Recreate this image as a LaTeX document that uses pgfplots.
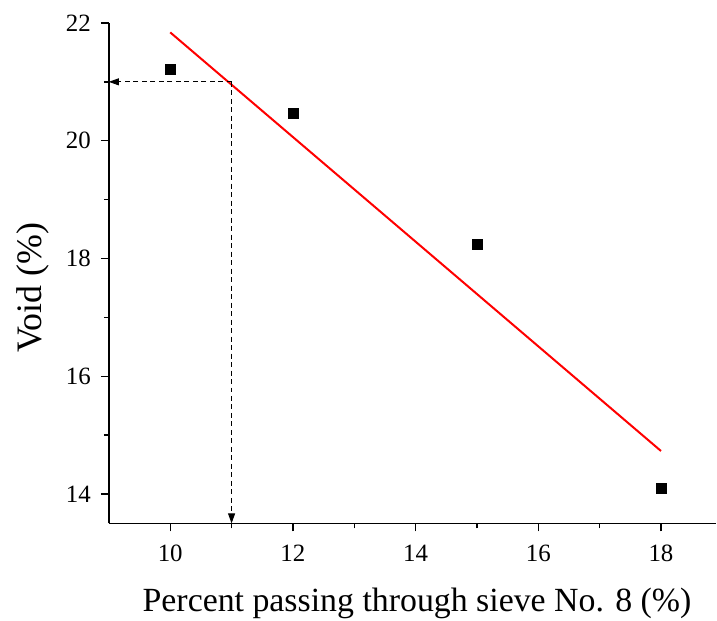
\documentclass[border=0pt]{standalone}
\usepackage{pgfplots}
\pgfplotsset{compat=1.18}
\usepackage{fontspec}
\setmainfont{Liberation Serif}
\usetikzlibrary{arrows.meta}
\begin{document}
\begin{tikzpicture}
\begin{axis}[
  name=ax,
  scale only axis,
  width=608bp, height=501bp,
  xmin=9, xmax=18.9, ymin=13.5, ymax=22,
  axis lines*=left,
  axis line style={line width=1.6bp, -},
  xtick={10,12,14,16,18},
  ytick={14,16,18,20,22},
  minor xtick={11,13,15,17},
  minor ytick={15,17,19,21},
  tick align=outside,
  tick pos=left,
  major tick length=8bp,
  minor tick length=5bp,
  every tick/.style={black, line width=1.4bp},
  /pgf/number format/assume math mode=true,
  xticklabel style={font=\fontsize{25}{28}\selectfont, anchor=north, inner sep=0pt, yshift=-13bp},
  yticklabel style={font=\fontsize{25}{28}\selectfont, anchor=east, inner sep=0pt, xshift=-10bp},
  xlabel={Percent passing through sieve No. 8 (\%)},
  ylabel={Void (\%)},
  xlabel style={font=\fontsize{34}{38}\selectfont, at={(axis description cs:0.5074,-0.1756)}, anchor=base, inner sep=0pt},
  ylabel style={font=\fontsize{36}{40}\selectfont, at={(axis description cs:-0.1102,0.471)}, rotate=0, anchor=base, inner sep=0pt},
  clip=false,
]
\addplot[only marks, mark=square*, mark size=5bp, black] coordinates {
  (10,21.22) (12,20.47) (15,18.25) (18,14.10)
};
\addplot[red, line width=2bp] coordinates {(10,21.84) (18,14.73)};
\addplot[line width=0.9bp, dash pattern=on 5bp off 3.5bp, -{Triangle[length=10bp,width=7bp]}] coordinates {(11,21.0) (11,13.5)};
\addplot[line width=0.9bp, dash pattern=on 5bp off 3.5bp, -{Triangle[length=10bp,width=7bp]}] coordinates {(11,21.0) (9,21.0)};
\end{axis}
\path (ax.south west) ++(-109bp,-97bp);
\path (ax.north east) ++(0bp,23bp);
\end{tikzpicture}
\end{document}
